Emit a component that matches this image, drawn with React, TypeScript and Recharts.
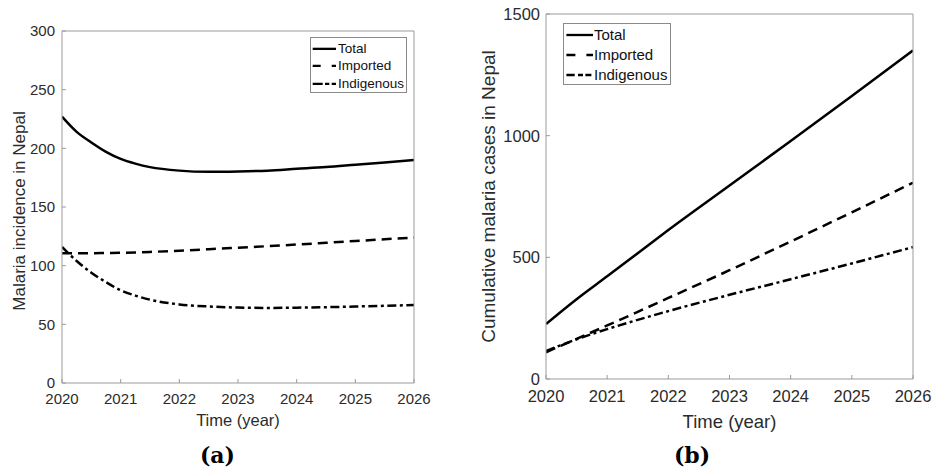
import React from 'react';
import { LineChart, Line, XAxis, YAxis, Legend } from 'recharts';

// ---------- data ----------
const incidenceYears = [2020, 2020.25, 2020.5, 2020.75, 2021, 2021.25, 2021.5, 2022, 2022.5, 2023, 2023.5, 2024, 2024.5, 2025, 2025.5, 2026];
const incidenceTotal = [227, 214, 205, 197, 191, 187, 184, 181, 180, 180.3, 181, 182.5, 184, 186, 188, 190];
const incidenceImported = [110.5, 110.5, 110.6, 110.8, 111, 111.3, 111.7, 112.8, 114, 115.3, 116.6, 118, 119.5, 121, 122.5, 124];
const incidenceIndigenous = [116, 104, 94, 86, 79, 74.5, 71, 67, 65.2, 64.3, 64, 64.2, 64.6, 65.2, 65.8, 66.5];

const cumulativeYears = [2020, 2020.5, 2021, 2021.5, 2022, 2023, 2024, 2025, 2026];
const cumulativeTotal = [226, 328, 422, 517, 612, 795, 978, 1163, 1350];
const cumulativeImported = [110, 165, 220, 276, 333, 447, 565, 685, 807];
const cumulativeIndigenous = [115, 163, 205, 243, 279, 346, 410, 475, 542];

const yearTicks = [2020, 2021, 2022, 2023, 2024, 2025, 2026];
const incidenceTicks = [0, 50, 100, 150, 200, 250, 300];
const cumulativeTicks = [0, 500, 1000, 1500];
const seriesNames = ['Total', 'Imported', 'Indigenous'];

const incidenceData = incidenceYears.map((year, i) => ({
  year,
  total: incidenceTotal[i],
  imported: incidenceImported[i],
  indigenous: incidenceIndigenous[i],
}));
const cumulativeData = cumulativeYears.map((year, i) => ({
  year,
  total: cumulativeTotal[i],
  imported: cumulativeImported[i],
  indigenous: cumulativeIndigenous[i],
}));

// ---------- styles ----------
const FONT = '"Liberation Sans", Arial, Helvetica, sans-serif';
const AXIS = '#9b9b9b';
const TEXT = '#2b2b2b';
const LINE_W = 2.5;
const DASH = '10 6';
const DASHDOT = '9 3.5 3 3.5';

type LegendCfg = {
  left: number; top: number; width: number; height: number;
  fontSize: number; rowH: number; padTop: number;
  sampleX: number; sampleW: number; textX: number;
  impDash: string; indDash: string;
};

const makeLegend = (cfg: LegendCfg) => () => (
  <div
    style={{
      width: cfg.width,
      height: cfg.height,
      boxSizing: 'border-box',
      border: '1px solid #8a8a8a',
      background: '#fff',
      position: 'relative',
      fontFamily: FONT,
      fontSize: cfg.fontSize,
      color: '#111',
    }}
  >
    {seriesNames.map((name, i) => {
      const dash = i === 0 ? undefined : i === 1 ? cfg.impDash : cfg.indDash;
      const cy = cfg.padTop + cfg.rowH * i + cfg.rowH / 2;
      return (
        <div key={name} style={{ position: 'absolute', left: 0, top: cy - cfg.rowH / 2, height: cfg.rowH, width: '100%' }}>
          <svg width={cfg.textX} height={cfg.rowH} style={{ position: 'absolute', left: 0, top: 0 }}>
            <line
              x1={cfg.sampleX}
              x2={cfg.sampleX + cfg.sampleW}
              y1={cfg.rowH / 2}
              y2={cfg.rowH / 2}
              stroke="#000"
              strokeWidth={2.3}
              strokeDasharray={dash}
            />
          </svg>
          <span style={{ position: 'absolute', left: cfg.textX, top: 0, lineHeight: `${cfg.rowH}px`, whiteSpace: 'nowrap' }}>{name}</span>
        </div>
      );
    })}
  </div>
);

const yLabel = (text: string, xOff: number, yOff: number, fontSize: number) => (props: any) => {
  const vb = props?.viewBox || { x: 0, y: 0, width: 0, height: 0 };
  const cx = vb.x + xOff;
  const cy = vb.y + vb.height / 2 + yOff;
  return (
    <text
      x={cx}
      y={cy}
      transform={`rotate(-90 ${cx} ${cy})`}
      textAnchor="middle"
      dominantBaseline="central"
      fontFamily={FONT}
      fontSize={fontSize}
      fill={TEXT}
    >
      {text}
    </text>
  );
};

const xLabel = (fontSize: number, titleDy: number, tag: string, tagX: number, tagY: number) => (props: any) => {
  const vb = props?.viewBox || { x: 0, y: 0, width: 0, height: 0 };
  const cx = vb.x + vb.width / 2;
  return (
    <g>
      <text x={cx} y={vb.y + titleDy} textAnchor="middle" dominantBaseline="central" fontFamily={FONT} fontSize={fontSize} fill={TEXT}>
        Time (year)
      </text>
      <text x={tagX} y={tagY} textAnchor="middle" dominantBaseline="central" fontFamily='"DejaVu Serif", serif' fontWeight="bold" fontSize={22} fill="#000">
        {tag}
      </text>
    </g>
  );
};

type PanelProps = {
  data: any[];
  width: number;
  height: number;
  margin: { top: number; right: number; bottom: number; left: number };
  yAxisWidth: number;
  xAxisHeight: number;
  yDomain: [number, number];
  yTicks: number[];
  tickFont: number;
  xLabelFont: number;
  yLabelFont: number;
  xTickMargin: number;
  yTickMargin: number;
  yTitle: string;
  yTitleX: number;
  yTitleDy: number;
  xTitleDy: number;
  tag: string;
  tagX: number;
  tagY: number;
  legend: LegendCfg;
};

const Panel = (p: PanelProps) => {
  const tickStyle = { fill: TEXT, fontSize: p.tickFont, fontFamily: FONT };
  return (
    <LineChart width={p.width} height={p.height} data={p.data} margin={p.margin}>
      <XAxis
        xAxisId="b"
        dataKey="year"
        type="number"
        domain={[2020, 2026]}
        ticks={yearTicks}
        interval={0}
        allowDataOverflow
        height={p.xAxisHeight}
        stroke={AXIS}
        tickSize={-4}
        tickMargin={p.xTickMargin}
        tick={tickStyle}
        label={xLabel(p.xLabelFont, p.xTitleDy, p.tag, p.tagX, p.tagY)}
      />
      <XAxis
        xAxisId="t"
        orientation="top"
        dataKey="year"
        type="number"
        domain={[2020, 2026]}
        ticks={yearTicks}
        interval={0}
        height={1}
        stroke={AXIS}
        tickSize={-4}
        tick={false}
      />
      <YAxis
        yAxisId="l"
        type="number"
        domain={p.yDomain}
        ticks={p.yTicks}
        interval={0}
        allowDataOverflow
        width={p.yAxisWidth}
        stroke={AXIS}
        tickSize={-4}
        tickMargin={p.yTickMargin}
        tick={tickStyle}
        label={yLabel(p.yTitle, p.yTitleX, p.yTitleDy, p.yLabelFont)}
      />
      <YAxis
        yAxisId="r"
        orientation="right"
        type="number"
        domain={p.yDomain}
        ticks={p.yTicks}
        interval={0}
        width={1}
        stroke={AXIS}
        tickSize={-4}
        tick={false}
      />
      <Legend
        layout="vertical"
        align="center"
        verticalAlign="middle"
        content={makeLegend(p.legend)}
        wrapperStyle={{ position: 'absolute', left: p.legend.left, top: p.legend.top, width: p.legend.width, height: p.legend.height }}
      />
      <Line xAxisId="b" yAxisId="l" type="monotone" dataKey="total" name="Total" stroke="#000" strokeWidth={LINE_W} dot={false} isAnimationActive={false} />
      <Line xAxisId="b" yAxisId="l" type="monotone" dataKey="imported" name="Imported" stroke="#000" strokeWidth={LINE_W} strokeDasharray={DASH} dot={false} isAnimationActive={false} />
      <Line xAxisId="b" yAxisId="l" type="monotone" dataKey="indigenous" name="Indigenous" stroke="#000" strokeWidth={LINE_W} strokeDasharray={DASHDOT} dot={false} isAnimationActive={false} />
    </LineChart>
  );
};

export default function App() {
  return (
    <div style={{ position: 'absolute', left: 0, top: 0, width: 933, height: 473, background: '#fff', overflow: 'hidden' }}>
      <div style={{ position: 'absolute', left: 0, top: 0 }}>
        <Panel
          data={incidenceData}
          width={450}
          height={473}
          margin={{ top: 30, right: 35, bottom: 0, left: 0 }}
          yAxisWidth={62}
          xAxisHeight={90}
          yDomain={[0, 300]}
          yTicks={incidenceTicks}
          tickFont={15}
          xLabelFont={16.5}
          yLabelFont={17}
          xTickMargin={14}
          yTickMargin={11}
          yTitle="Malaria incidence in Nepal"
          yTitleX={19.5}
          yTitleDy={4}
          xTitleDy={37}
          tag="(a)"
          tagX={217.5}
          tagY={455}
          legend={{
            left: 310, top: 37, width: 97, height: 56, fontSize: 13.5, rowH: 17.7, padTop: 1.5,
            sampleX: 1.7, sampleW: 23.3, textX: 27, impDash: '8 11 4.3', indDash: '10 2.3 4.3 2.4 4.3',
          }}
        />
      </div>
      <div style={{ position: 'absolute', left: 450, top: 0 }}>
        <Panel
          data={cumulativeData}
          width={483}
          height={473}
          margin={{ top: 13, right: 19, bottom: 0, left: 0 }}
          yAxisWidth={96}
          xAxisHeight={94}
          yDomain={[0, 1500]}
          yTicks={cumulativeTicks}
          tickFont={16.5}
          xLabelFont={18.5}
          yLabelFont={19}
          xTickMargin={15}
          yTickMargin={10}
          yTitle="Cumulative malaria cases in Nepal"
          yTitleX={38.5}
          yTitleDy={0}
          xTitleDy={42}
          tag="(b)"
          tagX={242}
          tagY={455}
          legend={{
            left: 113, top: 23, width: 108, height: 62, fontSize: 15, rowH: 20, padTop: 1,
            sampleX: 2.4, sampleW: 26.6, textX: 30, impDash: '9 11 6.6', indDash: '8.3 3.3 5 2.4 6',
          }}
        />
      </div>
    </div>
  );
}
